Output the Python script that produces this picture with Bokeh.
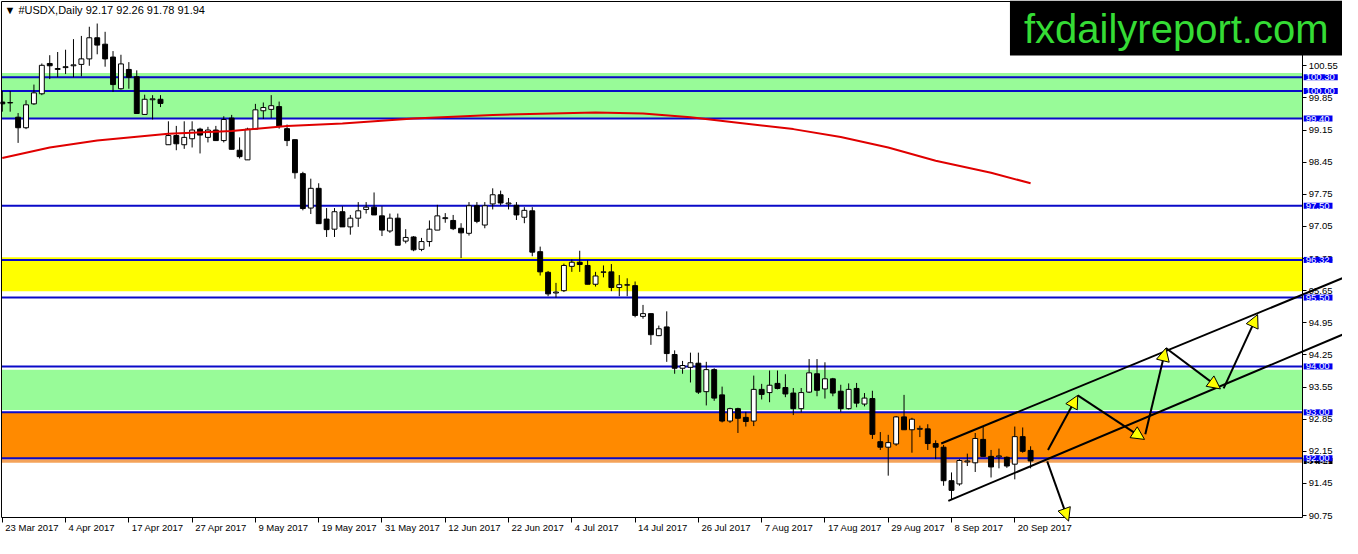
####################################################
#                     Imports                      #
####################################################

from bokeh.plotting import figure
from bokeh.models import (ColumnDataSource, Range1d, FixedTicker, LinearAxis,
                          Label, Arrow, NormalHead)
from bokeh.core.properties import value
from bokeh.embed import file_html
from bokeh.resources import INLINE


####################################################
#                       Data                       #
####################################################

# daily candles, bar 0 = 23 Mar 2017
opens = [99.76, 99.74, 99.43, 99.20, 99.72, 99.94, 100.60, 100.47, 100.51, 100.55,
         100.58, 100.70, 101.16, 101.02, 100.74, 100.05, 100.47, 100.31, 99.49, 99.81,
         99.82, 98.83, 99.03, 98.83, 98.96, 99.17, 98.99, 99.15, 98.92, 99.41,
         98.71, 98.50, 99.17, 99.57, 99.60, 99.66, 99.18, 98.94, 98.20, 97.45,
         97.88, 97.21, 96.99, 97.37, 97.04, 97.23, 97.42, 97.47, 97.28, 96.95,
         97.23, 96.73, 96.82, 96.55, 96.72, 96.97, 97.22, 97.18, 97.01, 96.90,
         97.50, 97.08, 97.54, 97.74, 97.54, 97.51, 97.25, 97.39, 96.50, 96.05,
         95.60, 95.65, 96.18, 96.27, 96.20, 95.79, 96.05, 96.06, 95.72, 95.77,
         95.76, 95.09, 95.15, 94.67, 94.86, 94.26, 93.96, 93.98, 94.07, 93.45,
         93.93, 93.38, 92.81, 93.08, 92.89, 92.81, 93.50, 93.43, 93.63, 93.54,
         93.42, 93.08, 93.44, 93.84, 93.51, 93.73, 93.46, 93.08, 93.52, 93.18,
         93.30, 92.36, 92.24, 92.31, 92.90, 92.62, 92.63, 92.64, 92.32, 92.24,
         91.51, 91.44, 91.92, 91.90, 92.41, 92.04, 92.03, 92.02, 91.87, 92.47,
         92.17]
highs = [100.00, 100.00, 99.52, 99.80, 100.14, 100.60, 100.78, 100.85, 100.90, 101.13,
         101.20, 101.40, 101.47, 101.29, 100.87, 100.79, 100.63, 100.45, 99.92, 99.91,
         99.91, 99.34, 99.24, 99.34, 99.34, 99.20, 99.22, 99.24, 99.45, 99.48,
         98.99, 99.20, 99.72, 99.75, 99.91, 99.77, 99.27, 98.94, 98.24, 98.09,
         97.99, 97.45, 97.45, 97.49, 97.30, 97.58, 97.58, 97.79, 97.49, 97.33,
         97.33, 96.99, 96.84, 96.80, 97.18, 97.52, 97.34, 97.30, 97.12, 97.58,
         97.58, 97.58, 97.88, 97.83, 97.67, 97.58, 97.47, 97.47, 96.61, 96.08,
         95.82, 96.24, 96.33, 96.52, 96.31, 96.06, 96.20, 96.23, 95.99, 95.92,
         95.85, 95.34, 95.15, 94.89, 95.20, 94.35, 94.12, 94.30, 94.30, 94.10,
         93.96, 93.56, 93.10, 93.10, 93.01, 93.80, 93.62, 93.91, 93.91, 93.83,
         93.53, 93.53, 94.16, 94.16, 94.09, 93.75, 93.60, 93.63, 93.64, 93.42,
         93.47, 92.57, 92.51, 92.92, 93.38, 92.88, 92.71, 92.74, 92.39, 92.29,
         91.69, 91.98, 92.10, 92.55, 92.69, 92.18, 92.21, 92.04, 92.69, 92.67,
         92.26]
lows = [99.55, 99.55, 98.87, 99.17, 99.70, 99.91, 100.26, 100.30, 100.37, 100.30,
        100.32, 100.55, 100.80, 100.53, 99.98, 100.03, 100.05, 99.51, 99.49, 99.38,
        99.65, 98.83, 98.71, 98.74, 98.77, 98.64, 98.88, 98.92, 98.88, 98.73,
        98.53, 98.50, 99.17, 99.39, 99.41, 99.18, 98.80, 98.09, 97.40, 97.32,
        97.11, 96.82, 96.82, 97.04, 96.87, 97.04, 97.33, 97.30, 96.84, 96.91,
        96.64, 96.68, 96.51, 96.51, 96.61, 96.97, 97.13, 96.97, 96.36, 96.85,
        97.12, 97.01, 97.42, 97.51, 97.42, 97.19, 97.12, 96.40, 95.98, 95.53,
        95.50, 95.62, 96.06, 96.06, 95.79, 95.74, 95.94, 95.64, 95.53, 95.53,
        95.07, 95.04, 94.47, 94.66, 94.10, 93.84, 93.84, 93.65, 93.40, 93.15,
        93.25, 92.78, 92.77, 92.55, 92.69, 92.70, 93.28, 93.22, 93.50, 93.33,
        92.94, 93.00, 93.42, 93.35, 93.30, 93.35, 93.01, 93.06, 93.11, 93.13,
        92.42, 92.18, 91.62, 92.27, 92.62, 92.12, 92.46, 92.18, 91.98, 91.40,
        91.09, 91.40, 91.83, 91.70, 92.04, 91.58, 91.78, 91.79, 91.54, 92.12,
        91.78]
closes = [99.72, 99.75, 99.20, 99.70, 99.96, 100.56, 100.55, 100.49, 100.53, 100.57,
          100.70, 101.16, 101.00, 100.70, 100.14, 100.59, 100.30, 99.51, 99.82, 99.83,
          99.73, 99.03, 98.85, 98.99, 99.15, 99.04, 99.15, 98.92, 99.38, 98.73,
          98.57, 99.17, 99.59, 99.64, 99.68, 99.24, 98.92, 98.22, 97.44, 97.88,
          97.11, 96.98, 97.37, 97.04, 97.23, 97.39, 97.47, 97.30, 96.97, 97.23,
          96.64, 96.81, 96.54, 96.72, 96.99, 97.28, 97.24, 97.00, 96.91, 97.50,
          97.16, 97.50, 97.74, 97.56, 97.56, 97.30, 97.40, 96.49, 96.06, 95.58,
          95.62, 96.20, 96.27, 96.22, 95.79, 95.97, 96.06, 95.72, 95.78, 95.78,
          95.11, 95.15, 94.69, 94.82, 94.28, 93.96, 94.02, 94.08, 93.44, 93.93,
          93.31, 92.81, 93.08, 92.87, 92.80, 93.50, 93.39, 93.59, 93.52, 93.40,
          93.08, 93.43, 93.86, 93.48, 93.73, 93.42, 93.08, 93.50, 93.20, 93.31,
          92.52, 92.24, 92.34, 92.90, 92.62, 92.85, 92.65, 92.32, 92.24, 91.51,
          91.30, 91.95, 91.94, 92.43, 92.04, 91.81, 92.05, 91.83, 92.47, 92.15,
          91.94]

# red moving average, read at a few bars
ma_bars = [0, 6, 12, 21, 29, 36, 43, 52, 62, 75, 81, 87, 93, 100, 106, 112, 118, 125, 130]
ma_values = [98.54, 98.77, 98.92, 99.07, 99.13, 99.24, 99.29, 99.40, 99.48, 99.53,
             99.51, 99.43, 99.31, 99.17, 99.00, 98.77, 98.48, 98.22, 97.99]

# horizontal levels (blue lines + price tags)
level_prices = [100.30, 100.00, 99.40, 97.50, 96.32, 95.50, 94.00, 93.00, 92.00]
level_labels = ["100.30", "100.00", "99.40", "97.50", "96.32", "95.50", "94.00", "93.00", "92.00"]

# coloured zones
zone_tops = [100.39, 96.38, 93.93, 92.99, 91.98]
zone_bottoms = [99.40, 95.64, 93.05, 91.98, 91.90]
zone_colors = ["#98fb98", "#ffff00", "#98fb98", "#ff8a00", "#f4a35a"]

# channel lines
channel_x0 = [118.7, 119.6]
channel_y0 = [92.32, 91.07]
channel_x1 = [169.4, 169.4]
channel_y1 = [95.92, 94.69]

# projection arrows
arrow_x0 = [132.2, 135.96, 144.5, 147.1, 154.4, 132.1]
arrow_y0 = [92.18, 93.37, 92.52, 94.40, 93.52, 91.93]
arrow_x1 = [135.96, 144.4, 147.1, 154.0, 158.7, 134.8]
arrow_y1 = [93.37, 92.41, 94.40, 93.51, 95.13, 90.63]

# axes
price_ticks = [90.75, 91.45, 92.15, 92.85, 93.55, 94.25, 94.95, 95.65, 96.35,
               97.05, 97.75, 98.45, 99.15, 99.85, 100.55]
price_tick_labels = ["90.75", "91.45", "92.15", "92.85", "93.55", "94.25", "94.95", "95.65", "96.35",
                     "97.05", "97.75", "98.45", "99.15", "99.85", "100.55"]
date_ticks = [0, 8, 16, 24, 32, 40, 48, 56, 64, 72, 80, 88, 96, 104, 112, 120, 128]
date_labels = ["23 Mar 2017", "4 Apr 2017", "17 Apr 2017", "27 Apr 2017", "9 May 2017",
               "19 May 2017", "31 May 2017", "12 Jun 2017", "22 Jun 2017", "4 Jul 2017",
               "14 Jul 2017", "26 Jul 2017", "7 Aug 2017", "17 Aug 2017", "29 Aug 2017",
               "8 Sep 2017", "20 Sep 2017"]

# the frame covers the whole canvas; the price scale and the date scale
# are drawn inside it at fixed locations
X_START, X_END = -0.226, 169.43
X_LEFT, X_AXIS = -0.1, 164.4
Y_START, Y_END = 90.251, 101.972
Y_AXIS, Y_TOP = 90.71, 101.95

FONT = "Liberation Sans"
LEVEL_BLUE = "#0a0ac8"
TAG_BLUE = "#0000f0"


####################################################
#                  Helper Methods                  #
####################################################

def get_candles():
    bars = list(range(len(opens)))
    tops = [max(o, c) for o, c in zip(opens, closes)]
    bottoms = [min(o, c) for o, c in zip(opens, closes)]
    fills = ["white" if c >= o else "black" for o, c in zip(opens, closes)]
    return ColumnDataSource(dict(bar=bars, high=highs, low=lows, top=tops,
                                 bottom=bottoms, fill=fills))


def style_axis(axis):
    axis.minor_tick_line_color = None
    axis.major_tick_in = 0
    axis.axis_line_color = "black"
    axis.major_tick_line_color = "black"
    axis.major_label_text_font = FONT
    axis.major_label_text_font_size = "9.5px"
    axis.major_label_text_color = "black"


def get_figure():
    p = figure(width=1342, height=538, x_range=Range1d(X_START, X_END),
               y_range=Range1d(Y_START, Y_END), x_axis_location=None, y_axis_location=None,
               output_backend="svg", toolbar_location=None, min_border=0)
    p.grid.visible = False
    p.outline_line_color = None
    p.background_fill_color = "white"
    p.border_fill_color = "white"

    price_axis = LinearAxis(fixed_location=X_AXIS, bounds=(Y_AXIS, Y_TOP),
                            ticker=FixedTicker(ticks=price_ticks))
    price_axis.major_label_overrides = dict(zip(price_ticks, price_tick_labels))
    price_axis.major_tick_out = 4
    price_axis.major_label_standoff = 2
    style_axis(price_axis)
    p.add_layout(price_axis, "right")

    date_axis = LinearAxis(fixed_location=Y_AXIS, bounds=(X_LEFT, X_AXIS),
                           ticker=FixedTicker(ticks=date_ticks))
    date_axis.major_label_overrides = {t: "" for t in date_ticks}
    date_axis.major_tick_out = 5
    style_axis(date_axis)
    p.add_layout(date_axis, "below")
    return p


def add_zones_and_levels(p):
    p.quad(left=X_LEFT, right=X_AXIS, top=zone_tops, bottom=zone_bottoms,
           fill_color=zone_colors, line_color=None)
    p.segment(x0=X_LEFT, y0=level_prices, x1=X_AXIS, y1=level_prices,
              line_color=LEVEL_BLUE, line_width=2)
    # left and top border of the chart
    p.segment(x0=[X_LEFT, X_LEFT], y0=[Y_AXIS, Y_TOP], x1=[X_LEFT, X_AXIS], y1=[Y_TOP, Y_TOP],
              line_color="black", line_width=1)


def add_date_labels(p):
    # labels start just right of their tick, as on the trading terminal
    p.text(x=date_ticks, y=Y_AXIS, text=date_labels, x_offset=3, y_offset=5,
           text_align="left", text_baseline="top", text_font=value(FONT),
           text_font_size="9.5px", text_color="black")


def add_price_tags(p):
    # current price tag sits under the 92.00 tag
    tag_style = dict(x=X_AXIS, x_offset=1, text_align="left", text_baseline="middle",
                     text_color="white", text_font=FONT, text_font_size="9.5px",
                     padding=(2, 3, 0, 0))
    p.add_layout(Label(y=closes[-1], text="%.2f" % closes[-1],
                       background_fill_color="black", **tag_style))
    for price, text in zip(level_prices, level_labels):
        p.add_layout(Label(y=price, text=text, background_fill_color=TAG_BLUE, **tag_style))


def add_titles(p):
    header = "\u25bc #USDX,Daily  %.2f %.2f %.2f %.2f" % (opens[-1], highs[-1], lows[-1], closes[-1])
    p.add_layout(Label(x=X_LEFT, y=Y_TOP, x_offset=3, y_offset=-2, text=header,
                       text_align="left", text_baseline="top", text_font=FONT,
                       text_font_size="11px", text_color="black"))
    p.add_layout(Label(x=X_END, y=Y_END, text="fxdailyreport.com",
                       text_align="right", text_baseline="top", text_font=FONT,
                       text_font_size="40px", text_color="#35dc35",
                       background_fill_color="black", padding=(14, 14, 6, 5)))


####################################################
#                    Execution                     #
####################################################

p = get_figure()
add_zones_and_levels(p)

candles = get_candles()
p.segment(x0="bar", y0="low", x1="bar", y1="high", source=candles, line_color="black", line_width=1)
p.vbar(x="bar", width=0.62, top="top", bottom="bottom", fill_color="fill",
       line_color="black", line_width=1, source=candles)

p.line(ma_bars, ma_values, line_color="#e00000", line_width=2)

p.segment(x0=channel_x0, y0=channel_y0, x1=channel_x1, y1=channel_y1,
          line_color="black", line_width=2)

arrows = ColumnDataSource(dict(x0=arrow_x0, y0=arrow_y0, x1=arrow_x1, y1=arrow_y1))
p.add_layout(Arrow(end=NormalHead(size=13, fill_color="#ffff00", line_color="black", line_width=1),
                   x_start="x0", y_start="y0", x_end="x1", y_end="y1", source=arrows,
                   line_color="black", line_width=2))

add_date_labels(p)
add_price_tags(p)
add_titles(p)

open("out.html", "w").write(file_html(p, INLINE))
